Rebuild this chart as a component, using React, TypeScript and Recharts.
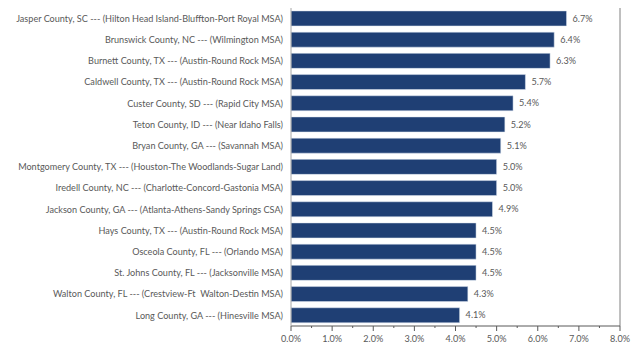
import { BarChart, Bar, XAxis, YAxis, LabelList, ReferenceLine } from 'recharts';

const counties = [
  'Jasper County, SC --- (Hilton Head Island-Bluffton-Port Royal MSA)',
  'Brunswick County, NC --- (Wilmington MSA)',
  'Burnett County, TX --- (Austin-Round Rock MSA)',
  'Caldwell County, TX --- (Austin-Round Rock MSA)',
  'Custer County, SD --- (Rapid City MSA)',
  'Teton County, ID --- (Near Idaho Falls)',
  'Bryan County, GA --- (Savannah MSA)',
  'Montgomery County, TX --- (Houston-The Woodlands-Sugar Land)',
  'Iredell County, NC --- (Charlotte-Concord-Gastonia MSA)',
  'Jackson County, GA --- (Atlanta-Athens-Sandy Springs CSA)',
  'Hays County, TX --- (Austin-Round Rock MSA)',
  'Osceola County, FL --- (Orlando MSA)',
  'St. Johns County, FL --- (Jacksonville MSA)',
  'Walton County, FL --- (Crestview-Ft  Walton-Destin MSA)',
  'Long County, GA --- (Hinesville MSA)',
];

const growth = [6.7, 6.4, 6.3, 5.7, 5.4, 5.2, 5.1, 5.0, 5.0, 4.9, 4.5, 4.5, 4.5, 4.3, 4.1];

// major ticks every 1%, minor every 0.5%
const xTicks = [0, 0.5, 1, 1.5, 2, 2.5, 3, 3.5, 4, 4.5, 5, 5.5, 6, 6.5, 7, 7.5, 8];

const data = counties.map((name, i) => ({ name, value: growth[i] }));

const FONT = 'Lato, "Open Sans", sans-serif';
const TEXT = '#595959';
const FS = 9.1;

const pct = (v: number) => `${Number(v).toFixed(1)}%`;

function XTick({ x, y, payload }: any) {
  const major = Number.isInteger(payload.value);
  return (
    <g>
      <line x1={x} x2={x} y1={y} y2={y + (major ? 5 : 2)} stroke="#595959" strokeWidth={1} />
      {major && (
        <text x={x} y={y + 15.5} textAnchor="middle" fontFamily={FONT} fontSize={FS} fill={TEXT}>
          {pct(payload.value)}
        </text>
      )}
    </g>
  );
}

function YTick({ x, y, payload }: any) {
  return (
    <text x={x} y={y} dy={3.2} textAnchor="end" fontFamily={FONT} fontSize={FS} fill={TEXT} style={{ whiteSpace: 'pre' }}>
      {payload.value}
    </text>
  );
}

export default function App() {
  return (
    <div style={{ position: 'absolute', left: 0, top: 0, width: 639, height: 343, background: '#fff' }}>
      <BarChart
        width={639}
        height={343}
        data={data}
        layout="vertical"
        margin={{ top: 8, right: 19, left: 0, bottom: 0 }}
        barCategoryGap="14%"
      >
        <XAxis
          type="number"
          domain={[0, 8]}
          ticks={xTicks}
          interval={0}
          tick={<XTick />}
          tickLine={false}
          tickSize={0}
          tickMargin={0}
          axisLine={{ stroke: '#595959' }}
          height={17}
        />
        <XAxis
          xAxisId="top"
          orientation="top"
          type="number"
          domain={[0, 8]}
          tick={false}
          tickLine={false}
          axisLine={{ stroke: '#808080' }}
          height={0}
        />
        <YAxis
          type="category"
          dataKey="name"
          width={291}
          tick={<YTick />}
          tickLine={false}
          tickSize={0}
          tickMargin={8}
          axisLine={{ stroke: '#a6a6a6' }}
          interval={0}
        />
        <ReferenceLine x={8} stroke="#808080" />
        <Bar dataKey="value" fill="#1f3f74" stroke="#dfe6f0" strokeWidth={0.5} isAnimationActive={false}>
          <LabelList
            dataKey="value"
            position="right"
            offset={6}
            formatter={(v: any) => pct(v)}
            style={{ fontFamily: FONT, fontSize: FS, fill: TEXT }}
          />
        </Bar>
      </BarChart>
    </div>
  );
}
